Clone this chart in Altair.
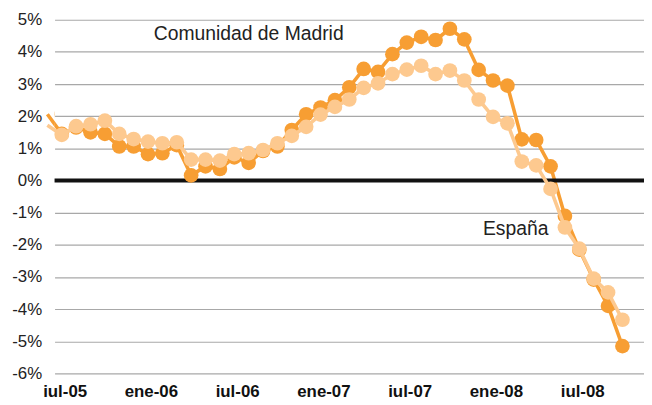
import altair as alt
import pandas as pd

# Month labels (jun-05 .. oct-08), Spanish style as in the source
month_names = ["ene", "feb", "mar", "abr", "may", "jun", "iul", "ago", "sep", "oct", "nov", "dic"]
start_year, start_month = 2005, 6
n_points = 41
months = []
for k in range(n_points):
    m = (start_month - 1 + k) % 12
    y = start_year + (start_month - 1 + k) // 12
    months.append(f"{month_names[m]}-{str(y)[2:]}")

madrid = [2.06, 1.45, 1.65, 1.50, 1.45, 1.06, 1.06, 0.82, 0.85, 1.10,
          0.16, 0.44, 0.36, 0.72, 0.55, 0.92, 1.06, 1.57, 2.06, 2.27,
          2.50, 2.90, 3.47, 3.38, 3.93, 4.29, 4.47, 4.37, 4.72, 4.39,
          3.44, 3.11, 2.95, 1.28, 1.26, 0.44, -1.10, -2.15, -3.08, -3.90,
          -5.15]
espana = [1.72, 1.42, 1.69, 1.75, 1.86, 1.45, 1.29, 1.21, 1.16, 1.19,
          0.65, 0.65, 0.62, 0.82, 0.85, 0.95, 1.16, 1.39, 1.67, 2.05,
          2.29, 2.52, 2.88, 3.02, 3.31, 3.45, 3.57, 3.31, 3.42, 3.11,
          2.52, 1.98, 1.78, 0.59, 0.47, -0.26, -1.46, -2.12, -3.05, -3.48,
          -4.33]

tick_idx = [1, 7, 13, 19, 25, 31, 37]
y_ticks = [-6, -5, -4, -3, -2, -1, 0, 1, 2, 3, 4, 5]

ann_text = ["Comunidad de Madrid", "España"]
ann_i = [7.4, 30.3]
ann_v = [4.54, -1.5]

C_MAD = "#F79E33"
C_ESP = "#FDC98F"
FONT = "Liberation Sans"

df = pd.DataFrame({"i": list(range(n_points)), "month": months,
                   "madrid": madrid, "espana": espana})
ann = pd.DataFrame({"i": ann_i, "v": ann_v, "t": ann_text})
zero = pd.DataFrame({"v": [0]})

label_array = "[" + ",".join(f"'{m}'" for m in months) + "]"
label_shift = 0.2  # labels sit slightly right of their data point in the source

x_scale = alt.Scale(domain=[0.5, 41.5], nice=False, zero=False)
x_axis = alt.Axis(values=[t + label_shift for t in tick_idx],
                  labelExpr=f"{label_array}[round(datum.value)]",
                  grid=False, domain=False, ticks=False, title=None,
                  labelFontWeight="bold", labelFontSize=17, labelFont=FONT,
                  labelColor="#111", labelPadding=10, labelOverlap=False)
y_scale = alt.Scale(domain=[-6, 5], nice=False, zero=False)
y_axis = alt.Axis(values=y_ticks, labelExpr="datum.value + '%'",
                  domain=False, ticks=False, title=None,
                  grid=True, gridColor="#a8a8a8", gridWidth=1.2,
                  labelFontSize=17, labelFont=FONT, labelColor="#222",
                  labelPadding=13, labelOverlap=False)


def X(field):
    return alt.X(field, scale=x_scale, axis=x_axis)


def Y(field):
    return alt.Y(field, scale=y_scale, axis=y_axis)


base = alt.Chart(df)

mad_line = base.mark_line(color=C_MAD, strokeWidth=3.6).encode(x=X("i:Q"), y=Y("madrid:Q"))
mad_pts = base.mark_point(filled=True, opacity=1, color=C_MAD, size=220, clip=True).encode(
    x=X("i:Q"), y=Y("madrid:Q"))
esp_line = base.mark_line(color=C_ESP, strokeWidth=3.6).encode(x=X("i:Q"), y=Y("espana:Q"))
esp_pts = base.mark_point(filled=True, opacity=1, color=C_ESP, size=220, clip=True).encode(
    x=X("i:Q"), y=Y("espana:Q"))

zero_rule = alt.Chart(zero).mark_rule(color="#111", strokeWidth=4).encode(y=Y("v:Q"))

texts = alt.Chart(ann).mark_text(align="left", baseline="middle", fontSize=19.5,
                                 font=FONT, color="#222").encode(
    x=X("i:Q"), y=Y("v:Q"), text="t:N")

chart = alt.layer(mad_line, zero_rule, mad_pts, esp_line, esp_pts, texts).properties(
    width=595, height=357,
    autosize=alt.AutoSizeParams(type="none"),
    padding={"left": 47, "top": 10, "right": 0, "bottom": 30},
).configure_view(stroke=None)

chart.save("out.html", embed_options={"renderer": "svg", "actions": False})
